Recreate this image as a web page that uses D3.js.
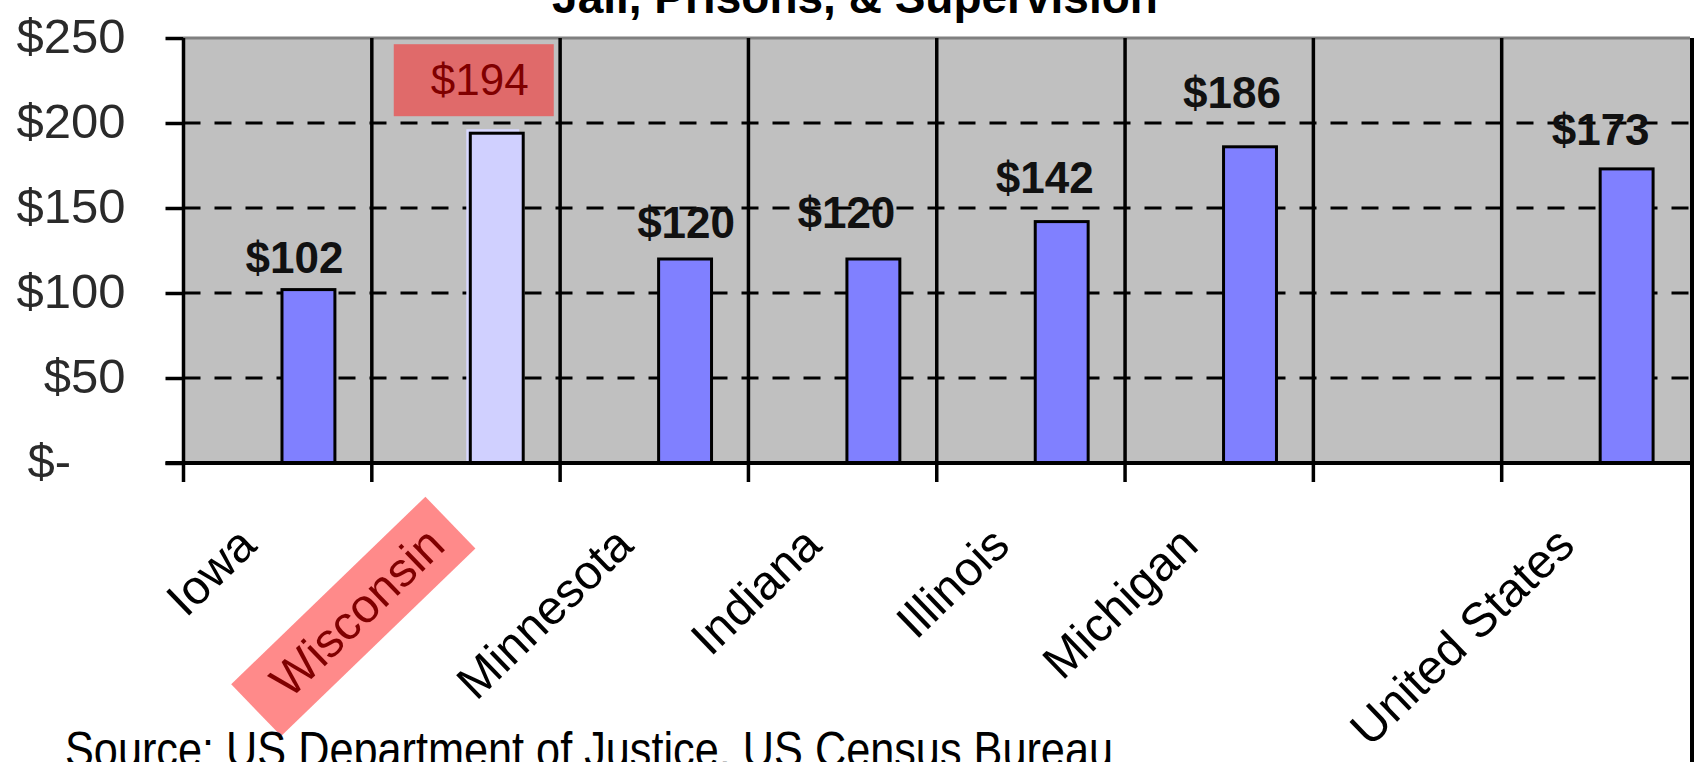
<!DOCTYPE html>
<html>
<head>
<meta charset="utf-8">
<script src="https://cdn.jsdelivr.net/npm/d3@7"></script>
<style>
  html, body { margin: 0; padding: 0; background: #fff; overflow: hidden; }
  svg { display: block; font-family: "Liberation Sans", Arial, sans-serif; }
</style>
</head>
<body>
<svg id="chart" width="1694" height="762"></svg>
<script>
// ---- data ----
const title = "Jail, Prisons, & Supervision";
const source = "Source: US Department of Justice, US Census Bureau";
const categories = ["Iowa", "Wisconsin", "Minnesota", "Indiana", "Illinois", "Michigan", "", "United States"];
const values = [102, 194, 120, 120, 142, 186, null, 173];
const yTicks = [0, 50, 100, 150, 200, 250];
const highlighted = "Wisconsin";
// manual nudges of the value labels (dx from bar centre, gap above bar top)
const labelNudge = [[-14, 17], [-17, 38], [1, 21], [-27, 31], [-17, 29], [-18, 39], null, [-26, 24]];

// ---- layout ----
const W = 1694, H = 762;
const plot = { left: 183.5, right: 1690, top: 38, bottom: 463 };
const svg = d3.select("#chart");

const x = d3.scaleBand().domain(d3.range(categories.length)).range([plot.left, plot.right]).padding(0);
const y = d3.scaleLinear().domain([0, 250]).range([plot.bottom, plot.top]);
const bw = x.bandwidth();
const barStart = 0.523, barFrac = 0.281;

// plot background
svg.append("rect").attr("x", plot.left).attr("y", plot.top)
  .attr("width", plot.right - plot.left).attr("height", plot.bottom - plot.top)
  .attr("fill", "#c0c0c0");

// top border
svg.append("line").attr("x1", plot.left).attr("x2", plot.right)
  .attr("y1", plot.top).attr("y2", plot.top)
  .attr("stroke", "#808080").attr("stroke-width", 3);

// dashed gridlines
svg.append("g").selectAll("line").data(yTicks.filter(t => t > 0 && t < 250)).join("line")
  .attr("x1", plot.left).attr("x2", plot.right)
  .attr("y1", d => y(d)).attr("y2", d => y(d))
  .attr("stroke", "#000").attr("stroke-width", 3)
  .attr("stroke-dasharray", "17,14");

// bars
const barData = categories.map((c, i) => ({ c, i, v: values[i] })).filter(d => d.v != null);
const bars = svg.append("g");
bars.selectAll("rect.halo").data(barData.filter(d => d.c === highlighted)).join("rect")
  .attr("class", "halo")
  .attr("x", d => x(d.i) + bw * barStart - 4)
  .attr("y", d => y(d.v) - 4)
  .attr("width", bw * barFrac)
  .attr("height", d => y(0) - y(d.v) + 4)
  .attr("fill", "#d8d8ff");
bars.selectAll("rect.bar").data(barData).join("rect")
  .attr("class", "bar")
  .attr("x", d => x(d.i) + bw * barStart)
  .attr("y", d => y(d.v))
  .attr("width", bw * barFrac)
  .attr("height", d => y(0) - y(d.v))
  .attr("fill", d => d.c === highlighted ? "#d0d0ff" : "#8080ff")
  .attr("stroke", "#000").attr("stroke-width", 3);

// vertical dividers + category ticks
const divs = d3.range(categories.length).map(i => x(i));
svg.append("g").selectAll("line").data(divs).join("line")
  .attr("x1", d => d).attr("x2", d => d)
  .attr("y1", plot.top).attr("y2", plot.bottom + 19)
  .attr("stroke", "#000").attr("stroke-width", 3.5);

// bottom axis line
svg.append("line").attr("x1", plot.left - 18).attr("x2", plot.right)
  .attr("y1", plot.bottom).attr("y2", plot.bottom)
  .attr("stroke", "#000").attr("stroke-width", 4);

// y axis
const yAxis = d3.axisLeft(y).tickValues(yTicks).tickSize(18).tickPadding(40)
  .tickFormat(d => d === 0 ? "$-\u2007\u2007" : "$" + d);
const gy = svg.append("g").attr("transform", `translate(${plot.left},0)`).call(yAxis);
gy.select(".domain").remove();
gy.selectAll(".tick line").attr("stroke", "#000").attr("stroke-width", 3.5);
gy.selectAll(".tick text").attr("font-size", 49).attr("fill", "#2a2a2a")
  .attr("font-family", "'Liberation Sans', Arial, sans-serif").attr("dy", "0.29em");

// value labels
const lab = svg.append("g");
barData.forEach(d => {
  const nud = labelNudge[d.i];
  const cx = x(d.i) + bw * (barStart + barFrac / 2) + nud[0];
  const by = y(d.v) - nud[1];
  const hl = d.c === highlighted;
  if (hl) {
    lab.append("rect").attr("x", cx - 86).attr("y", by - 51)
      .attr("width", 160).attr("height", 72).attr("fill", "#e06a6a");
  }
  lab.append("text").attr("x", cx).attr("y", by)
    .attr("text-anchor", "middle").attr("font-size", 44)
    .attr("font-weight", hl ? "normal" : "bold")
    .attr("fill", hl ? "#800000" : "#111")
    .text("$" + d.v);
});

// category labels
const angle = -44;
const catG = svg.append("g");
categories.forEach((c, i) => {
  if (!c) return;
  const ax = x(i) + bw * 0.40, ay = 548;
  const g = catG.append("g").attr("transform", `translate(${ax},${ay}) rotate(${angle})`);
  if (c === highlighted) {
    g.append("rect").attr("x", -250).attr("y", -52).attr("width", 270).attr("height", 72)
      .attr("fill", "#ff8a8a");
  }
  g.append("text").attr("text-anchor", "end").attr("font-size", 48)
    .attr("fill", c === highlighted ? "#800000" : "#000")
    .text(c);
});

// title (mostly cut off at the top, as in the original)
svg.append("text").attr("x", 855).attr("y", 13).attr("text-anchor", "middle")
  .attr("font-size", 46).attr("font-weight", "bold").attr("fill", "#000").text(title);

// source (bottom edge cut, as in the original)
svg.append("text").attr("x", 65).attr("y", 767).attr("font-size", 50)
  .attr("textLength", 1048).attr("lengthAdjust", "spacingAndGlyphs")
  .attr("fill", "#000").text(source);

// right frame edge
svg.append("line").attr("x1", 1692).attr("x2", 1692).attr("y1", plot.top).attr("y2", H)
  .attr("stroke", "#000").attr("stroke-width", 4);
</script>
</body>
</html>
